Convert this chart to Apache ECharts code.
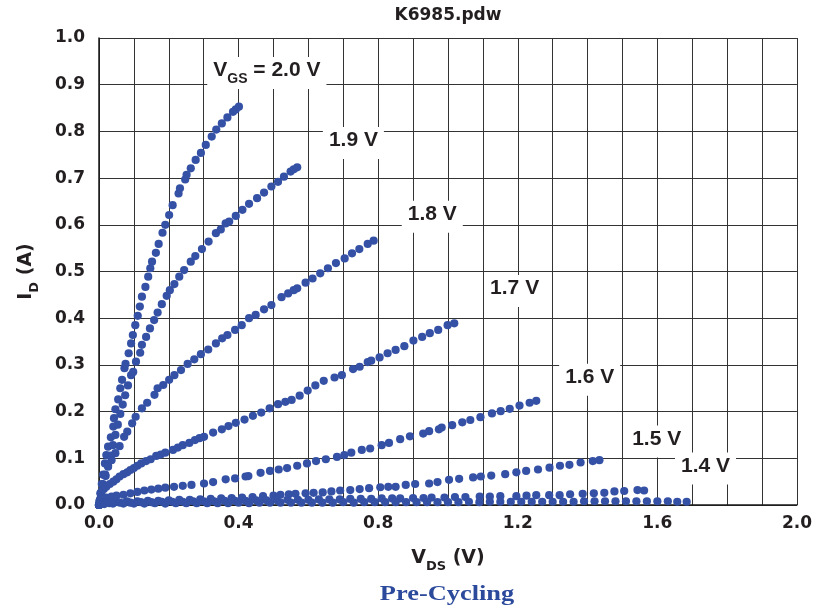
<!DOCTYPE html>
<html>
<head>
<meta charset="utf-8">
<script src="https://cdn.jsdelivr.net/npm/echarts@6/dist/echarts.min.js"></script>
<style>html,body{margin:0;padding:0;background:#fff}#c{width:815px;height:611px}</style>
</head>
<body>
<div id="c"></div>
<script>
// ---- data ----
var title = 'K6985.pdw';
var subtitle = 'Pre-Cycling';
var xTicks = ['0.0','0.4','0.8','1.2','1.6','2.0'];
var yTicks = ['0.0','0.1','0.2','0.3','0.4','0.5','0.6','0.7','0.8','0.9','1.0'];
var curveNames = ['2.0 V','1.9 V','1.8 V','1.7 V','1.6 V','1.5 V','1.4 V','1.3 V'];

var vgs20 = [[0,0],[0.001,0.008],[0.004,0.025],[0.008,0.045],[0.012,0.065],[0.017,0.089],[0.021,0.107],[0.026,0.125],[0.034,0.145],[0.041,0.168],[0.043,0.186],[0.047,0.205],[0.055,0.226],[0.061,0.25],[0.066,0.268],[0.073,0.293],[0.076,0.302],[0.085,0.325],[0.092,0.346],[0.097,0.364],[0.104,0.385],[0.111,0.405],[0.117,0.425],[0.123,0.446],[0.133,0.467],[0.141,0.489],[0.147,0.507],[0.152,0.521],[0.163,0.54],[0.171,0.559],[0.182,0.583],[0.19,0.6],[0.201,0.621],[0.211,0.642],[0.228,0.667],[0.232,0.678],[0.247,0.697],[0.251,0.707],[0.263,0.721],[0.277,0.739],[0.292,0.754],[0.306,0.771],[0.323,0.789],[0.336,0.804],[0.352,0.817],[0.368,0.83],[0.384,0.842],[0.392,0.847],[0.401,0.853]];
var vgs19 = [[0,0],[0.003,0.01],[0.006,0.02],[0.012,0.04],[0.019,0.062],[0.026,0.084],[0.033,0.106],[0.04,0.128],[0.047,0.15],[0.054,0.172],[0.061,0.195],[0.068,0.215],[0.075,0.235],[0.083,0.256],[0.092,0.278],[0.098,0.285],[0.106,0.307],[0.118,0.326],[0.123,0.343],[0.135,0.36],[0.146,0.378],[0.158,0.396],[0.168,0.412],[0.18,0.43],[0.194,0.448],[0.203,0.46],[0.216,0.473],[0.23,0.489],[0.244,0.503],[0.263,0.521],[0.276,0.533],[0.295,0.548],[0.314,0.564],[0.335,0.582],[0.349,0.59],[0.363,0.603],[0.373,0.607],[0.392,0.619],[0.411,0.632],[0.43,0.645],[0.453,0.657],[0.473,0.669],[0.494,0.682],[0.513,0.692],[0.53,0.703],[0.549,0.714],[0.558,0.719],[0.568,0.723]];
var vgs18 = [[0,0],[0.005,0.025],[0.011,0.045],[0.018,0.065],[0.026,0.082],[0.036,0.096],[0.047,0.111],[0.059,0.126],[0.072,0.146],[0.081,0.157],[0.095,0.175],[0.105,0.189],[0.123,0.207],[0.138,0.219],[0.159,0.236],[0.168,0.25],[0.184,0.257],[0.201,0.268],[0.216,0.278],[0.235,0.289],[0.254,0.302],[0.273,0.312],[0.292,0.323],[0.313,0.333],[0.335,0.346],[0.353,0.357],[0.368,0.364],[0.39,0.375],[0.409,0.385],[0.43,0.4],[0.449,0.407],[0.473,0.419],[0.494,0.428],[0.523,0.445],[0.542,0.453],[0.558,0.46],[0.568,0.464],[0.592,0.476],[0.612,0.485],[0.634,0.496],[0.656,0.507],[0.679,0.518],[0.704,0.528],[0.725,0.539],[0.746,0.548],[0.77,0.559],[0.787,0.566]];
var vgs17 = [[0,0],[0.003,0.012],[0.007,0.028],[0.014,0.034],[0.021,0.039],[0.031,0.045],[0.041,0.05],[0.05,0.055],[0.059,0.061],[0.07,0.066],[0.081,0.07],[0.09,0.075],[0.1,0.079],[0.11,0.084],[0.121,0.089],[0.135,0.094],[0.148,0.098],[0.164,0.105],[0.177,0.108],[0.19,0.112],[0.212,0.118],[0.226,0.123],[0.24,0.128],[0.259,0.133],[0.275,0.139],[0.288,0.143],[0.301,0.146],[0.327,0.155],[0.352,0.162],[0.371,0.169],[0.392,0.176],[0.417,0.183],[0.441,0.191],[0.465,0.198],[0.489,0.207],[0.513,0.216],[0.534,0.221],[0.552,0.225],[0.575,0.234],[0.598,0.245],[0.62,0.256],[0.644,0.266],[0.675,0.273],[0.696,0.278],[0.728,0.291],[0.747,0.296],[0.77,0.306],[0.78,0.309],[0.804,0.316],[0.827,0.325],[0.85,0.332],[0.875,0.34],[0.901,0.352],[0.926,0.36],[0.948,0.368],[0.972,0.375],[0.999,0.385],[1.018,0.389]];
var vgs16 = [[0,0],[0.004,0.008],[0.01,0.013],[0.02,0.016],[0.036,0.018],[0.05,0.02],[0.07,0.022],[0.09,0.025],[0.11,0.028],[0.13,0.031],[0.15,0.033],[0.17,0.035],[0.19,0.037],[0.215,0.039],[0.24,0.041],[0.265,0.043],[0.301,0.046],[0.327,0.049],[0.363,0.055],[0.39,0.057],[0.42,0.061],[0.428,0.062],[0.463,0.069],[0.49,0.073],[0.515,0.076],[0.539,0.079],[0.568,0.084],[0.596,0.089],[0.622,0.094],[0.65,0.098],[0.682,0.103],[0.703,0.107],[0.723,0.112],[0.753,0.118],[0.777,0.121],[0.81,0.128],[0.831,0.133],[0.863,0.141],[0.891,0.147],[0.929,0.153],[0.946,0.158],[0.974,0.162],[0.982,0.166],[1.012,0.171],[1.041,0.177],[1.064,0.182],[1.093,0.188],[1.126,0.196],[1.151,0.201],[1.177,0.206],[1.205,0.213],[1.234,0.219],[1.253,0.223]];
var vgs15 = [[0,0],[0.004,0.004],[0.02,0.006],[0.05,0.007],[0.08,0.008],[0.11,0.008],[0.14,0.009],[0.17,0.009],[0.2,0.01],[0.23,0.011],[0.26,0.011],[0.29,0.012],[0.32,0.013],[0.35,0.014],[0.38,0.015],[0.41,0.016],[0.44,0.017],[0.47,0.019],[0.5,0.02],[0.52,0.022],[0.544,0.023],[0.563,0.024],[0.592,0.025],[0.615,0.026],[0.641,0.027],[0.666,0.029],[0.691,0.031],[0.72,0.032],[0.747,0.034],[0.774,0.036],[0.806,0.038],[0.829,0.039],[0.85,0.039],[0.879,0.043],[0.906,0.045],[0.946,0.046],[0.97,0.049],[1.003,0.054],[1.032,0.056],[1.072,0.059],[1.094,0.061],[1.124,0.063],[1.164,0.066],[1.196,0.07],[1.224,0.073],[1.258,0.076],[1.291,0.08],[1.321,0.084],[1.348,0.086],[1.38,0.091],[1.415,0.094],[1.434,0.096]];
var vgs14 = [[0,0],[0.01,0.003],[0.03,0.004],[0.06,0.005],[0.09,0.005],[0.12,0.006],[0.15,0.006],[0.18,0.007],[0.21,0.007],[0.24,0.007],[0.27,0.008],[0.3,0.008],[0.33,0.008],[0.36,0.009],[0.39,0.009],[0.42,0.009],[0.45,0.01],[0.48,0.01],[0.51,0.01],[0.54,0.011],[0.57,0.011],[0.6,0.011],[0.63,0.012],[0.66,0.012],[0.69,0.012],[0.72,0.013],[0.75,0.013],[0.78,0.013],[0.81,0.014],[0.84,0.014],[0.863,0.014],[0.9,0.015],[0.93,0.015],[0.953,0.016],[0.99,0.016],[1.02,0.017],[1.05,0.017],[1.091,0.018],[1.12,0.018],[1.15,0.019],[1.196,0.019],[1.225,0.02],[1.253,0.021],[1.29,0.021],[1.32,0.021],[1.35,0.023],[1.386,0.024],[1.418,0.025],[1.448,0.026],[1.477,0.029],[1.505,0.03],[1.543,0.032],[1.562,0.031]];
var vgs13 = [[0,0],[0.015,0.002],[0.04,0.003],[0.07,0.003],[0.1,0.003],[0.13,0.003],[0.16,0.004],[0.19,0.003],[0.22,0.004],[0.25,0.004],[0.28,0.004],[0.31,0.004],[0.34,0.004],[0.37,0.004],[0.4,0.005],[0.43,0.004],[0.46,0.005],[0.49,0.005],[0.52,0.005],[0.55,0.005],[0.58,0.005],[0.61,0.005],[0.64,0.005],[0.67,0.005],[0.7,0.006],[0.73,0.005],[0.76,0.006],[0.79,0.006],[0.82,0.006],[0.85,0.006],[0.88,0.006],[0.91,0.006],[0.94,0.006],[0.97,0.006],[1.0,0.006],[1.03,0.006],[1.06,0.007],[1.09,0.006],[1.12,0.007],[1.15,0.007],[1.18,0.007],[1.21,0.007],[1.24,0.007],[1.27,0.007],[1.3,0.007],[1.33,0.007],[1.36,0.007],[1.39,0.008],[1.42,0.008],[1.45,0.008],[1.48,0.008],[1.51,0.008],[1.54,0.008],[1.57,0.008],[1.6,0.008],[1.63,0.008],[1.657,0.007],[1.684,0.007]];

// curve label anchors (data coordinates of label centres)
var labelX = [0.481, 0.729, 0.955, 1.191, 1.406, 1.598, 1.738];
var labelY = [0.925, 0.775, 0.617, 0.458, 0.268, 0.136, 0.078];

var curves = [vgs20, vgs19, vgs18, vgs17, vgs16, vgs15, vgs14, vgs13];

// ---- chart ----
var dotColor = '#3451a5';
var txtColor = '#231f20';
var sansB = "'DejaVu Sans', 'Liberation Sans', sans-serif";
var labFont = "'Liberation Sans', Arial, sans-serif";

var chart = echarts.init(document.getElementById('c'), null, {renderer: 'canvas'});

var series = curves.map(function (d, i) {
  return {
    name: curveNames[i], type: 'scatter', data: d,
    symbol: 'circle', symbolSize: 8.2,
    itemStyle: {color: dotColor, opacity: 1}, silent: true, z: 3
  };
});

var labelData = labelX.map(function (x, i) { return [x, labelY[i], i]; });
series.push({
  type: 'scatter', data: labelData, symbolSize: 0, z: 5, silent: true,
  itemStyle: {color: txtColor, opacity: 1},
  label: {
    show: true, position: 'inside', color: txtColor, textBorderWidth: 0, opacity: 1,
    backgroundColor: '#fff', padding: [3, 6, 3, 6],
    formatter: function (p) {
      var i = p.data[2];
      if (i === 0) return '{v|V}{s|GS}{v| = ' + curveNames[0] + '}';
      return '{v|' + curveNames[i] + '}';
    },
    rich: {
      v: {fontFamily: labFont, fontWeight: 'bold', fontSize: 21, color: txtColor, textBorderWidth: 0, verticalAlign: 'bottom', padding: [0, 0, 5, 0]},
      s: {fontFamily: labFont, fontWeight: 'bold', fontSize: 14, color: txtColor, textBorderWidth: 0, verticalAlign: 'bottom'}
    }
  }
});

chart.setOption({
  animation: false,
  backgroundColor: '#fff',
  grid: {left: 99, right: 15, top: 38, bottom: 106, containLabel: false},
  xAxis: {
    type: 'value', min: 0, max: 2, interval: 0.1,
    name: '{v|V}{s|DS}{v| (V)}', nameLocation: 'middle', nameGap: 44,
    nameTextStyle: {
      rich: {
        v: {fontFamily: sansB, fontWeight: 'bold', fontSize: 19, color: txtColor, verticalAlign: 'bottom', padding: [0, 0, 5, 0]},
        s: {fontFamily: sansB, fontWeight: 'bold', fontSize: 13, color: txtColor, verticalAlign: 'bottom'}
      }
    },
    axisLine: {show: true, lineStyle: {color: '#1a1a1a', width: 1.5}},
    axisTick: {show: false},
    axisLabel: {
      margin: 10, fontFamily: sansB, fontWeight: 'bold', fontSize: 17, color: txtColor,
      formatter: function (v) {
        var k = Math.round(v * 10);
        if (k % 4 !== 0) return '';
        return xTicks[k / 4];
      }
    },
    splitLine: {show: true, lineStyle: {color: '#333333', width: 1}}
  },
  yAxis: {
    type: 'value', min: 0, max: 1, interval: 0.1,
    name: '{v|I}{s|D}{v| (A)}', nameLocation: 'middle', nameGap: 58, nameRotate: 90,
    nameTextStyle: {
      rich: {
        v: {fontFamily: sansB, fontWeight: 'bold', fontSize: 19, color: txtColor, verticalAlign: 'bottom', padding: [0, 0, 5, 0]},
        s: {fontFamily: sansB, fontWeight: 'bold', fontSize: 13, color: txtColor, verticalAlign: 'bottom'}
      }
    },
    axisLine: {show: true, lineStyle: {color: '#1a1a1a', width: 1.5}},
    axisTick: {show: false},
    axisLabel: {
      margin: 14, fontFamily: sansB, fontWeight: 'bold', fontSize: 17, color: txtColor,
      formatter: function (v) { return yTicks[Math.round(v * 10)]; }
    },
    splitLine: {show: true, lineStyle: {color: '#333333', width: 1}}
  },
  graphic: [
    {type: 'text', x: 448, y: 16, style: {text: title, fontFamily: sansB, fontWeight: 'bold', fontSize: 17, fill: txtColor, align: 'center', verticalAlign: 'middle'}},
    {type: 'text', x: 447, y: 595, scaleX: 1.32, style: {text: subtitle, fontFamily: "'Liberation Serif', 'Times New Roman', serif", fontWeight: 'bold', fontSize: 20, fill: '#2c4a9c', align: 'center', verticalAlign: 'middle'}}
  ],
  series: series
});
</script>
</body>
</html>
